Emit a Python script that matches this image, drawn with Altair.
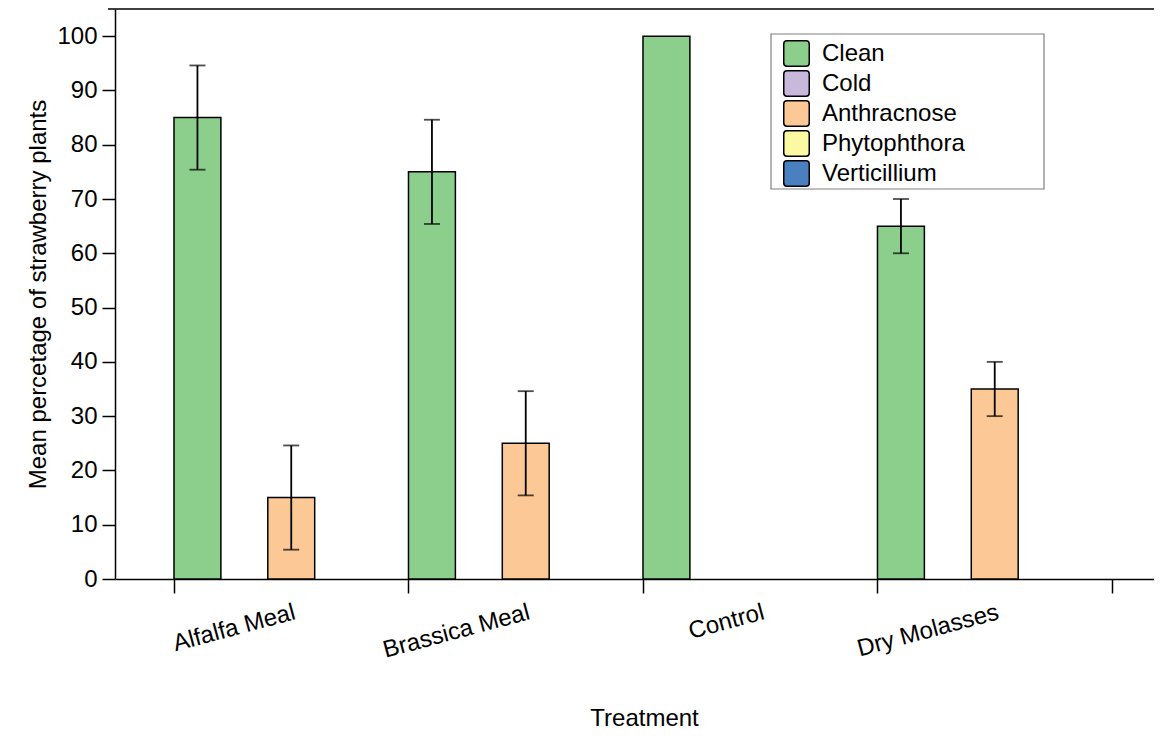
import altair as alt
import pandas as pd

# ---- data ----
treatments = ["Alfalfa Meal", "Brassica Meal", "Control", "Dry Molasses"]
conditions = ["Clean", "Cold", "Anthracnose", "Phytophthora", "Verticillium"]
colors = ["#8ccf8c", "#c8b9dc", "#fbc896", "#fbfaa2", "#4a7fc0"]

bar_treatment = ["Alfalfa Meal", "Alfalfa Meal", "Brassica Meal", "Brassica Meal",
                 "Control", "Dry Molasses", "Dry Molasses"]
bar_condition = ["Clean", "Anthracnose", "Clean", "Anthracnose",
                 "Clean", "Clean", "Anthracnose"]
bar_mean = [85, 15, 75, 25, 100, 65, 35]
bar_err = [9.6, 9.6, 9.6, 9.6, 0, 5, 5]

y_ticks = list(range(0, 106, 5))

df = pd.DataFrame({
    "Treatment": bar_treatment,
    "Condition": bar_condition,
    "Mean": bar_mean,
    "Err": bar_err,
})

W, H = 1039, 570
FONT = "Liberation Sans"

x_enc = alt.X(
    "Treatment:N",
    sort=treatments,
    scale=alt.Scale(domain=treatments, paddingInner=0, paddingOuter=0.2154, align=0.584),
    axis=alt.Axis(
        title="Treatment", labelAngle=-15, labelAlign="right", labelBaseline="top",
        tickBand="extent", tickSize=14, labelPadding=7,
        titleY=146, titleX=529, titleBaseline="alphabetic",
    ),
)
xo_enc = alt.XOffset("Condition:N",
                     scale=alt.Scale(domain=conditions, paddingInner=0, paddingOuter=0))
y_scale = alt.Scale(domain=[0, 105], nice=False, zero=True)
y_axis = alt.Axis(
    title="Mean percetage of strawberry plants",
    values=y_ticks,
    labelExpr="datum.value % 10 === 0 ? datum.label : ''",
    tickSize={"condition": {"test": "datum.value % 10 === 0", "value": 13}, "value": 7},
    labelPadding=5,
    titleAngle=-90, titleX=-70, titleY=285, titleBaseline="alphabetic",
    titleAlign="center",
)
color_enc = alt.Color(
    "Condition:N",
    scale=alt.Scale(domain=conditions, range=colors),
    legend=alt.Legend(
        orient="none", legendX=668, legendY=31, title=None,
        symbolType="M -0.75,-1 L 0.75,-1 Q 1,-1 1,-0.75 L 1,0.75 Q 1,1 0.75,1 L -0.75,1 Q -1,1 -1,0.75 L -1,-0.75 Q -1,-1 -0.75,-1 Z",
        symbolSize=650, symbolStrokeColor="black", symbolStrokeWidth=1.5,
        symbolOpacity=1, labelFontSize=24, labelFont=FONT, labelColor="black",
        labelOffset=12, rowPadding=-3.5, padding=0,
    ),
)

base = alt.Chart(df)

bars = base.mark_bar(stroke="black", strokeWidth=1.5).encode(
    x=x_enc,
    xOffset=xo_enc,
    y=alt.Y("Mean:Q", scale=y_scale, axis=y_axis),
    color=color_enc,
)

err = base.transform_filter("datum.Err > 0").transform_calculate(
    lo="datum.Mean - datum.Err", hi="datum.Mean + datum.Err"
)

err_rule = err.mark_rule(color="black", strokeWidth=1.8).encode(
    x=x_enc, xOffset=xo_enc,
    y=alt.Y("lo:Q", scale=y_scale, axis=y_axis), y2="hi:Q",
)
cap_lo = err.mark_tick(color="black", thickness=1.8, size=16, orient="horizontal").encode(
    x=x_enc, xOffset=xo_enc, y=alt.Y("lo:Q", scale=y_scale, axis=y_axis),
)
cap_hi = err.mark_tick(color="black", thickness=1.8, size=16, orient="horizontal").encode(
    x=x_enc, xOffset=xo_enc, y=alt.Y("hi:Q", scale=y_scale, axis=y_axis),
)

one = alt.Chart(pd.DataFrame({"k": [0]}))
top_line = one.mark_rule(color="black", strokeWidth=1.5).encode(
    y=alt.datum(105), x=alt.value(-7), x2=alt.value(W),
)
legend_box = one.mark_rect(fill="white", stroke="#808080", strokeWidth=1.2).encode(
    x=alt.value(656), x2=alt.value(929), y=alt.value(25), y2=alt.value(180),
)

chart = alt.layer(legend_box, bars, err_rule, cap_lo, cap_hi, top_line).properties(
    width=W, height=H,
    autosize=alt.AutoSizeParams(type="none"),
    padding={"left": 107, "top": 1, "right": 0, "bottom": 151},
).configure_axis(
    labelFont=FONT, titleFont=FONT, labelFontSize=24, titleFontSize=24,
    labelColor="black", titleColor="black", titleFontWeight="normal",
    domainColor="black", tickColor="black", domainWidth=1.5, tickWidth=1.5,
    grid=False,
).configure_view(stroke=None)

chart.save("out.html", embed_options={"renderer": "svg", "actions": False})
